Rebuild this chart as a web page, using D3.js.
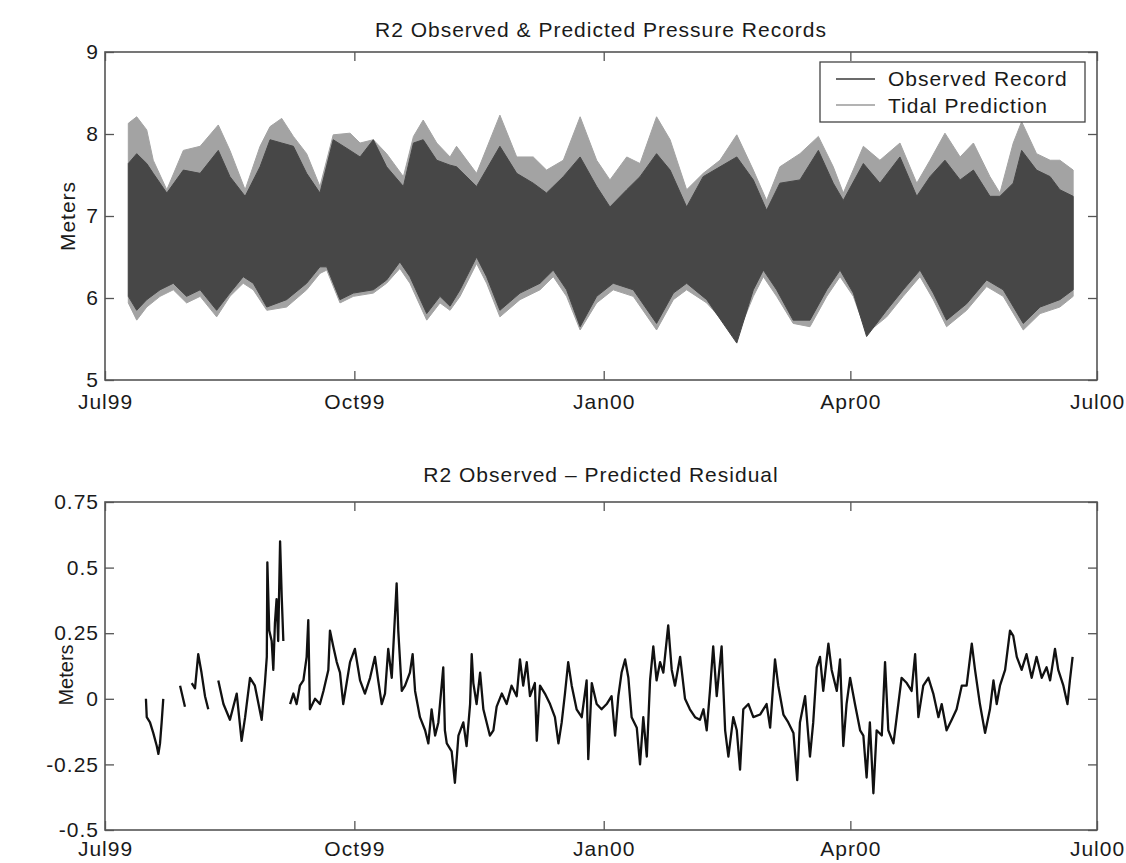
<!DOCTYPE html>
<html><head><meta charset="utf-8">
<script src="https://cdn.jsdelivr.net/npm/d3@7"></script>
<style>
body{margin:0;background:#fff;}
svg text{font-family:"Liberation Sans",Arial,Helvetica,sans-serif;font-size:21px;letter-spacing:1px;fill:#1a1a1a;}
</style></head><body>
<svg id="chart" width="1126" height="863"></svg>
<script>
// ---- data (days after 1 Jul 1999, values in metres) ----
const upDays=[8.6,11.7,15.4,17.8,22.8,28.9,35.1,41.8,46.1,51.7,57.2,60.9,65.2,69.5,74.4,79.3,84.2,90.4,94.1,99.0,103.9,110.1,113.8,117.4,122.4,
127.3,129.7,137.1,145.7,151.9,158.0,162.9,169.1,175.3,181.4,186.3,192.5,197.4,203.5,208.5,214.6,220.7,226.9,233.1,239.2,244.1,
249.0,256.4,263.2,268.7,272.4,279.8,285.9,293.3,299.5,304.4,309.9,315.5,320.4,326.5,330.2,335.1,338.2,343.7,348.7,352.3,357.2];
const predUp=[8.13,8.21,8.05,7.68,7.32,7.80,7.85,8.11,7.80,7.32,7.85,8.09,8.19,7.97,7.76,7.36,7.99,8.01,7.89,7.93,7.76,7.48,7.97,8.17,7.89,
7.72,7.85,7.52,8.23,7.72,7.72,7.56,7.68,8.21,7.68,7.44,7.72,7.64,8.21,7.93,7.32,7.52,7.68,7.99,7.56,7.19,
7.60,7.76,7.97,7.60,7.28,7.85,7.68,7.89,7.40,7.68,8.01,7.72,7.89,7.48,7.28,7.89,8.15,7.76,7.68,7.68,7.56];
const obsUp=[7.64,7.76,7.64,7.52,7.28,7.56,7.52,7.80,7.48,7.24,7.60,7.93,7.89,7.85,7.52,7.28,7.93,7.80,7.72,7.93,7.60,7.36,7.89,7.93,7.68,
7.62,7.60,7.36,7.85,7.52,7.40,7.28,7.48,7.72,7.36,7.11,7.32,7.48,7.76,7.56,7.11,7.48,7.60,7.72,7.44,7.07,
7.40,7.44,7.80,7.40,7.19,7.64,7.40,7.72,7.24,7.48,7.68,7.44,7.56,7.24,7.24,7.40,7.80,7.56,7.48,7.32,7.24];
const lowDays=[8.6,11.7,15.4,20.3,25.2,30.1,35.1,41.2,46.1,51.0,54.7,59.7,67.0,74.4,79.3,81.8,86.7,91.6,99.0,103.9,108.8,112.5,118.7,123.6,
127.3,131.0,137.1,140.8,145.7,153.1,160.5,165.4,170.3,175.3,181.4,187.5,194.9,203.5,209.7,214.6,222.0,233.1,239.2,242.9,
247.8,253.9,260.1,266.3,271.2,276.1,281.0,288.4,294.5,300.7,305.6,310.5,317.9,325.3,331.4,338.8,345.0,352.3,357.2];
const predLow=[5.94,5.73,5.89,6.02,6.10,5.94,6.02,5.77,6.02,6.18,6.10,5.85,5.89,6.10,6.30,6.34,5.94,6.02,6.06,6.18,6.36,6.18,5.73,5.94,
5.85,6.02,6.42,6.18,5.77,5.98,6.10,6.26,6.02,5.61,5.94,6.10,6.02,5.61,5.98,6.10,5.94,5.53,6.02,6.26,
6.02,5.69,5.65,6.02,6.26,6.02,5.57,5.77,6.02,6.26,5.98,5.65,5.85,6.14,6.02,5.61,5.81,5.89,6.02];
const obsLow=[6.02,5.85,5.98,6.10,6.18,6.02,6.10,5.85,6.06,6.26,6.18,5.89,5.98,6.18,6.38,6.38,5.98,6.06,6.10,6.22,6.44,6.26,5.81,6.02,
5.90,6.10,6.50,6.26,5.85,6.06,6.18,6.34,6.10,5.65,6.02,6.18,6.10,5.69,6.06,6.18,5.98,5.45,6.10,6.34,
6.10,5.73,5.73,6.10,6.34,6.06,5.53,5.85,6.10,6.34,6.06,5.73,5.93,6.22,6.10,5.69,5.89,5.98,6.10];

const resDays=[15.1,15.4,16.6,17.8,19.1,19.7,20.3,20.9,21.5,24,27.7,28.6,29.5,30.8,32.0,33.2,34.4,35.6,36.9,38.1,40.0,
41.8,43.7,46.1,48.6,50.4,51.7,53.5,55.3,57.8,59.0,59.7,59.9,60.6,61.5,62.1,62.7,63.3,63.9,64.6,65.2,65.8,67.0,
68.3,69.5,70.7,71.9,73.2,74.4,75.0,75.6,77.5,79.3,80.6,82.4,83.0,84.2,85.5,86.7,87.9,90.4,92.2,94.1,95.9,97.8,99.6,100.8,102.1,103.3,104.5,105.8,107.6,108.2,109.5,110.7,112.5,113.5,114.4,116.2,118.1,119.3,120.5,121.8,123.0,
124.8,125.4,126.1,127.9,129.1,130.4,132.2,133.4,134.7,135.3,135.9,137.1,138.4,139.6,142.0,143.3,144.5,146.4,148.2,150.0,151.9,153.1,154.3,155.6,156.8,158.6,159.3,160.5,162.3,164.2,166.0,167.3,168.5,169.7,170.9,172.2,174.0,175.9,177.7,178.3,179.6,181.4,183.2,185.1,186.9,188.2,189.4,190.6,191.9,193.1,194.3,196.2,197.4,198.6,199.9,201.1,202.3,203.5,204.8,206.0,207.8,209.1,210.3,212.2,214.0,215.8,217.7,219.5,220.8,222.0,223.2,224.4,225.7,227.5,228.8,230.0,231.8,233.1,234.3,235.5,237.4,239.2,241.7,
244.1,245.4,247.2,248.4,250.3,252.1,254.0,255.4,256.4,258.3,260.1,261.3,262.6,263.8,265.0,266.9,268.1,270.0,271.2,272.4,273.6,274.9,276.7,278.6,279.8,281.0,282.2,283.5,284.7,286.6,287.8,289.0,290.9,292.1,293.9,295.8,297.6,298.9,300.1,301.9,303.8,305.6,307.5,308.7,310.5,312.4,314.2,316.1,317.9,319.8,321.0,322.8,324.7,326.5,327.8,329.0,330.2,332.1,333.9,335.1,336.4,338.2,340.0,341.9,343.7,345.6,347.4,348.7,350.5,351.7,353.6,355.1,356.0,357.0];
const resVals=[0.00,-0.07,-0.09,-0.13,-0.18,-0.21,-0.17,-0.09,0.00,null,0.05,0.01,-0.03,null,0.06,0.04,0.17,0.10,0.01,-0.04,null,
0.07,-0.02,-0.08,0.02,-0.16,-0.07,0.08,0.05,-0.08,0.06,0.16,0.52,0.26,0.22,0.11,0.29,0.38,0.22,0.60,0.39,0.22,null,
-0.02,0.02,-0.02,0.05,0.07,0.16,0.30,-0.04,0.00,-0.02,0.03,0.11,0.26,0.20,0.14,0.10,-0.02,0.14,0.19,0.07,0.02,0.08,0.16,0.07,-0.02,0.02,0.19,0.08,0.44,0.26,0.03,0.05,0.10,0.17,0.03,-0.07,-0.12,-0.17,-0.04,-0.14,-0.09,
0.12,-0.12,-0.17,-0.20,-0.32,-0.14,-0.09,-0.18,-0.02,0.17,0.06,-0.02,0.10,-0.04,-0.14,-0.12,-0.03,0.02,-0.02,0.05,0.01,0.15,0.05,0.14,0.01,0.06,-0.16,0.05,0.02,-0.02,-0.07,-0.17,-0.09,0.02,0.14,0.05,-0.04,-0.07,0.07,-0.23,0.06,-0.02,-0.04,-0.02,0.01,-0.14,0.01,0.10,0.15,0.08,-0.07,-0.11,-0.25,-0.07,-0.22,0.07,0.20,0.07,0.14,0.10,0.28,0.11,0.05,0.16,0.00,-0.04,-0.07,-0.08,-0.04,-0.12,0.03,0.20,0.01,0.20,-0.12,-0.22,-0.07,-0.12,-0.27,-0.04,-0.02,-0.07,-0.06,
-0.02,-0.11,0.15,0.05,-0.06,-0.09,-0.13,-0.31,-0.09,0.01,-0.22,-0.09,0.12,0.16,0.03,0.21,0.11,0.03,0.15,-0.18,-0.02,0.08,-0.02,-0.12,-0.14,-0.30,-0.09,-0.36,-0.12,-0.14,0.14,-0.12,-0.17,-0.07,0.08,0.06,0.03,0.17,-0.07,0.05,0.08,0.02,-0.07,-0.02,-0.12,-0.08,-0.04,0.05,0.05,0.21,0.11,-0.02,-0.13,-0.04,0.07,-0.02,0.05,0.11,0.26,0.24,0.16,0.11,0.17,0.08,0.16,0.08,0.12,0.07,0.19,0.11,0.05,-0.02,0.07,0.16];

const topTitle="R2 Observed & Predicted Pressure Records";
const botTitle="R2 Observed \u2013 Predicted Residual";
const yLabel="Meters";
const xTickDates=["1999-07-01","1999-10-01","2000-01-01","2000-04-01","2000-07-01"];
const xTickLabels=["Jul99","Oct99","Jan00","Apr00","Jul00"];
const topYTicks=[5,6,7,8,9];
const botYTicks=[-0.5,-0.25,0,0.25,0.5,0.75];
const botYLabels=["-0.5","-0.25","0","0.25","0.5","0.75"];
const legendLabels=["Observed Record","Tidal Prediction"];

// ---- layout ----
const svg=d3.select("#chart");
const L=105,R=1097;
const topP={t:52,b:380}, botP={t:502,b:830};
const DAY0=Date.UTC(1999,6,1);
const toDate=d=>new Date(DAY0+d*864e5);
const tickDates=xTickDates.map(s=>new Date(s+"T00:00:00Z"));
const x=d3.scaleUtc().domain([tickDates[0],tickDates[4]]).range([L,R]);
const yTop=d3.scaleLinear().domain([5,9]).range([topP.b,topP.t]);
const yBot=d3.scaleLinear().domain([-0.5,0.75]).range([botP.b,botP.t]);
const TK=9, AX="#555";

function frame(p,y,yt,ylabs,pad){
  const fmt=d=>xTickLabels[tickDates.findIndex(t=>+t===+d)];
  const gb=svg.append("g").attr("transform",`translate(0,${p.b})`).attr("color",AX)
    .call(d3.axisBottom(x).tickValues(tickDates).tickFormat(fmt).tickSize(-TK).tickPadding(pad));
  const gt=svg.append("g").attr("transform",`translate(0,${p.t})`).attr("color",AX)
    .call(d3.axisTop(x).tickValues(tickDates).tickFormat("").tickSize(-TK));
  const gl=svg.append("g").attr("transform",`translate(${L},0)`).attr("color",AX)
    .call(d3.axisLeft(y).tickValues(yt).tickFormat((d,i)=>ylabs[i]).tickSize(-TK).tickPadding(6));
  const gr=svg.append("g").attr("transform",`translate(${R},0)`).attr("color",AX)
    .call(d3.axisRight(y).tickValues(yt).tickFormat("").tickSize(-TK));
  [gb,gt,gl,gr].forEach(g=>{g.select(".domain").remove();g.selectAll(".tick line").attr("stroke-width",1.3);});
  svg.append("rect").attr("x",L).attr("y",p.t).attr("width",R-L).attr("height",p.b-p.t)
    .attr("fill","none").attr("stroke",AX).attr("stroke-width",1.6);
}

// ---- top panel: envelope bands ----
const gTop=svg.append("g");
function band(up,low,color){
  const pts=upDays.map((d,i)=>[d,up[i]]).concat(lowDays.map((d,i)=>[d,low[i]]).reverse());
  const line=d3.line().x(p=>x(toDate(p[0]))).y(p=>yTop(p[1]));
  gTop.append("path").attr("d",line(pts)+"Z").attr("fill",color).attr("stroke",color).attr("stroke-width",1);
}
band(predUp,predLow,"#a3a3a3");
band(obsUp,obsLow,"#474747");
frame(topP,yTop,topYTicks,topYTicks.map(String),14);

// legend
const lg=svg.append("g");
lg.append("rect").attr("x",820).attr("y",62).attr("width",265).attr("height",60)
  .attr("fill","#fff").attr("stroke","#444").attr("stroke-width",1.3);
[["#3a3a3a",79,86],["#9a9a9a",105,113]].forEach((c,i)=>{
  lg.append("line").attr("x1",836).attr("x2",875).attr("y1",c[1]).attr("y2",c[1]).attr("stroke",c[0]).attr("stroke-width",1.5);
  lg.append("text").attr("x",888).attr("y",c[2]).text(legendLabels[i]);
});

// ---- bottom panel: residual ----
const resLine=d3.line().defined(d=>d[1]!==null).x(d=>x(toDate(d[0]))).y(d=>yBot(d[1]));
svg.append("path").datum(resDays.map((d,i)=>[d,resVals[i]])).attr("d",resLine)
  .attr("fill","none").attr("stroke","#111").attr("stroke-width",2.3).attr("stroke-linejoin","round");
frame(botP,yBot,botYTicks,botYLabels,11);

// titles and labels
svg.append("text").attr("x",(L+R)/2).attr("y",37).attr("text-anchor","middle").text(topTitle);
svg.append("text").attr("x",(L+R)/2).attr("y",482).attr("text-anchor","middle").text(botTitle);
svg.append("text").attr("transform","translate(75,216) rotate(-90)").attr("text-anchor","middle").text(yLabel);
svg.append("text").attr("transform","translate(73,675) rotate(-90)").attr("text-anchor","middle")
  .style("letter-spacing","0px").style("font-size","20px").text(yLabel);
</script>
</body></html>
